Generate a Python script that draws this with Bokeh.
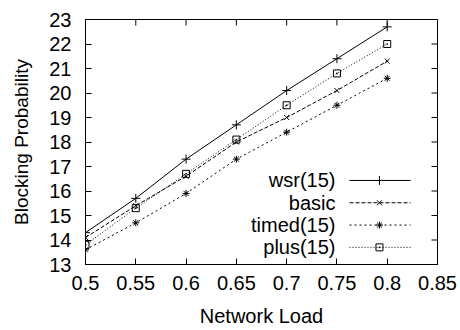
from bokeh.plotting import figure
from bokeh.models import Range1d, FixedTicker
from bokeh.core.properties import value
from bokeh.embed import file_html
from bokeh.resources import INLINE

# ---- data ----
load = [0.5, 0.55, 0.6, 0.65, 0.7, 0.75, 0.8]
wsr15 = [14.3, 15.7, 17.3, 18.7, 20.1, 21.4, 22.7]
basic = [14.1, 15.4, 16.6, 18.0, 19.0, 20.1, 21.3]
timed15 = [13.6, 14.7, 15.9, 17.3, 18.4, 19.5, 20.6]
plus15 = [13.8, 15.3, 16.7, 18.1, 19.5, 20.8, 22.0]
series_names = ["wsr(15)", "basic", "timed(15)", "plus(15)"]
x_ticks = [0.5, 0.55, 0.6, 0.65, 0.7, 0.75, 0.8, 0.85]
x_tick_labels = ["0.5", "0.55", "0.6", "0.65", "0.7", "0.75", "0.8", "0.85"]
y_ticks = [13, 14, 15, 16, 17, 18, 19, 20, 21, 22, 23]
y_tick_labels = [str(v) for v in y_ticks]
x_title = "Network Load"
y_title = "Blocking Probability"

FONT = "Liberation Sans"
FS = "20px"

X0, X1, Y0, Y1 = 0.5, 0.85, 13, 23
FRAME_W, FRAME_H = 352, 245
TICK_PX = 6

p = figure(width=460, height=330, output_backend="svg", toolbar_location=None,
           x_range=Range1d(X0, X1), y_range=Range1d(Y0, Y1),
           min_border_left=85, min_border_right=23, min_border_top=19, min_border_bottom=66,
           x_axis_label=x_title, y_axis_label=y_title)
p.background_fill_color = "white"
p.border_fill_color = "white"
p.outline_line_color = "black"
p.outline_line_width = 1
p.xgrid.visible = False
p.ygrid.visible = False

for ax, ticks, labels in ((p.xaxis[0], x_ticks, x_tick_labels), (p.yaxis[0], y_ticks, y_tick_labels)):
    ax.ticker = FixedTicker(ticks=ticks)
    ax.major_label_overrides = {t: l for t, l in zip(ticks, labels)}
    ax.major_tick_in = TICK_PX
    ax.major_tick_out = 0
    ax.minor_tick_line_color = None
    ax.axis_line_color = "black"
    ax.major_tick_line_color = "black"
    ax.major_label_text_font = FONT
    ax.major_label_text_font_size = FS
    ax.major_label_text_color = "black"
    ax.axis_label_text_font = FONT
    ax.axis_label_text_font_size = FS
    ax.axis_label_text_font_style = "normal"
    ax.axis_label_text_color = "black"
p.yaxis[0].axis_label_text_font_size = "19px"
p.xaxis[0].major_label_standoff = 11
p.xaxis[0].axis_label_standoff = 12
p.yaxis[0].major_label_standoff = 14
p.yaxis[0].axis_label_standoff = 14

# mirror ticks on top and right (inward)
dy_tick = TICK_PX * (Y1 - Y0) / FRAME_H
dx_tick = TICK_PX * (X1 - X0) / FRAME_W
p.segment(x0=x_ticks, y0=[Y1] * len(x_ticks), x1=x_ticks, y1=[Y1 - dy_tick] * len(x_ticks),
          line_color="black", line_width=1)
p.segment(x0=[X1] * len(y_ticks), y0=y_ticks, x1=[X1 - dx_tick] * len(y_ticks), y1=y_ticks,
          line_color="black", line_width=1)

styles = [
    dict(ys=wsr15, dash="solid", marker="cross", size=9),
    dict(ys=basic, dash="4 2", marker="x", size=7),
    dict(ys=timed15, dash="2 3", marker="asterisk", size=7),
    dict(ys=plus15, dash="1 2", marker="square_dot", size=7),
]

# legend placement (data units)
leg_text_x = 0.7486
leg_line_x0 = 0.7625
leg_line_x1 = 0.8232
leg_mark_x = 0.7923
leg_y0 = 16.43
leg_dy = 0.91

for i, (name, st) in enumerate(zip(series_names, styles)):
    p.line(load, st["ys"], line_color="black", line_width=1, line_dash=st["dash"])
    p.scatter(load, st["ys"], marker=st["marker"], size=st["size"], line_color="black",
              fill_color=None, line_width=1)
    ly = leg_y0 - i * leg_dy
    p.text(x=[leg_text_x], y=[ly], text=[name], text_align="right", text_baseline="middle",
           text_font=value(FONT), text_font_size=FS, text_color="black")
    p.line([leg_line_x0, leg_line_x1], [ly, ly], line_color="black", line_width=1, line_dash=st["dash"])
    p.scatter([leg_mark_x], [ly], marker=st["marker"], size=st["size"], line_color="black",
              fill_color=None, line_width=1)

open("out.html", "w").write(file_html(p, INLINE))
